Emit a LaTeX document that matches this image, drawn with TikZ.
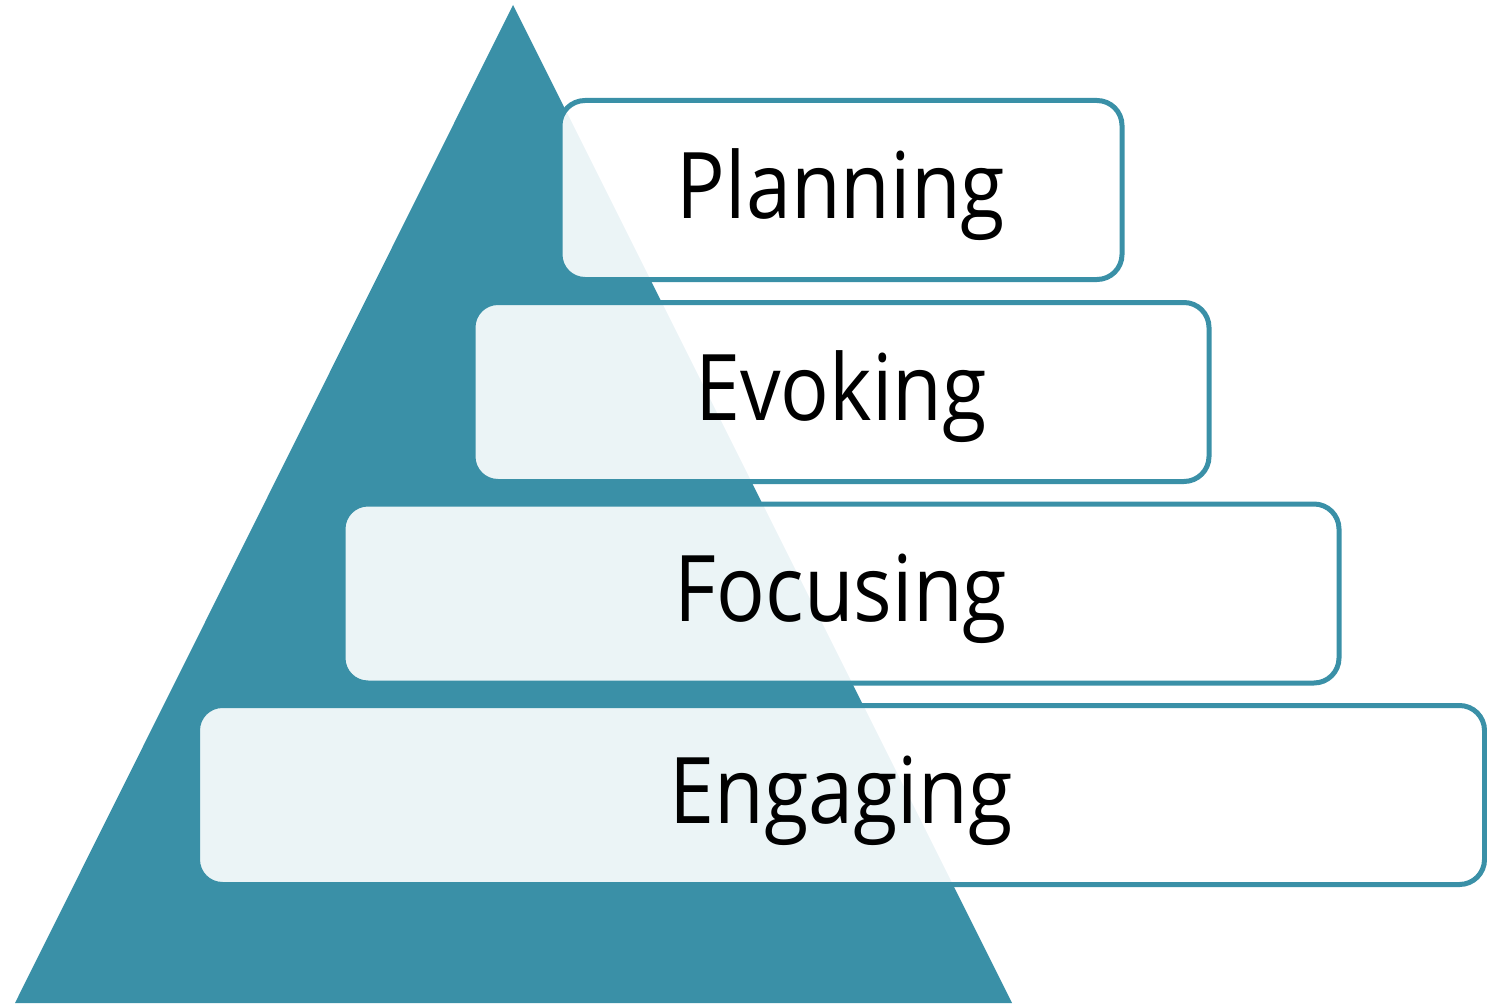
\documentclass[tikz,border=0pt]{standalone}
\usepackage{fontspec}
\setmainfont{Open Sans}[FakeStretch=0.88]
\definecolor{teal}{HTML}{3A90A7}
\begin{document}
\begin{tikzpicture}[x=1pt,y=-1pt,
  stage/.style={rectangle, rounded corners=25pt, draw=teal, line width=5pt,
    fill=white, fill opacity=0.9, text opacity=1, inner sep=0pt,
    minimum height=179pt, font=\fontsize{92}{92}\selectfont,
    text height=76pt, text depth=20pt}]
  \useasboundingbox (0,0) rectangle (1487,1003);
  % pyramid
  \fill[teal] (513,5) -- (1012,1003) -- (15,1003) -- cycle;
  % stages, bottom to top
  \node[stage, minimum width=1287pt] (engaging) at (841,795) {Engaging};
  \node[stage, minimum width=996pt]  (focusing) at (841,593.5) {Focusing};
  \node[stage, minimum width=736pt]  (evoking)  at (841,392) {Evoking};
  \node[stage, minimum width=562pt]  (planning) at (841,190) {Planning};
\end{tikzpicture}
\end{document}
